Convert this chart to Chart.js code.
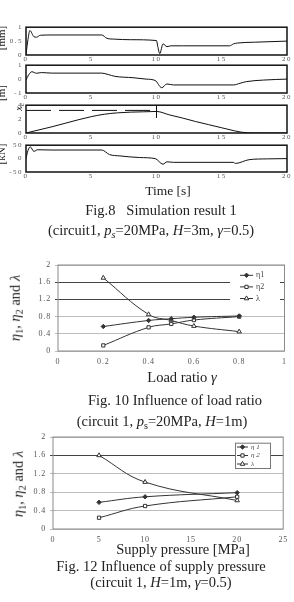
<!DOCTYPE html>
<html>
<head>
<meta charset="utf-8">
<script src="https://cdn.jsdelivr.net/npm/chart.js@4.4.1/dist/chart.umd.min.js"></script>
<style>
  html, body { margin: 0; padding: 0; background: #fff; }
  body { width: 294px; height: 602px; position: relative; overflow: hidden;
         font-family: "Liberation Serif", serif; color: #222; }
  canvas { position: absolute; left: 0; }
  .lbl { position: absolute; transform: translate(-50%, -50%); white-space: pre; line-height: 1; }
  .rot { position: absolute; transform: translate(-50%, -50%) rotate(-90deg); white-space: nowrap; line-height: 1; }
  sub { font-size: 0.7em; vertical-align: -0.3em; line-height: 0; }
</style>
</head>
<body>

<!-- Fig.8 : four stacked time traces -->
<canvas id="p1"></canvas>
<canvas id="p2"></canvas>
<canvas id="p3"></canvas>
<canvas id="p4"></canvas>
<div class="rot" style="left:1px;top:38px;font-size:11px">[mm]</div>
<div class="rot" style="left:1px;top:93px;font-size:11px">[m]</div>
<div class="rot" style="left:19px;top:107px;font-size:10px"><i>x</i><sub>c</sub></div>
<div class="rot" style="left:1px;top:154px;font-size:11px">[kN]</div>
<div class="lbl" style="left:168px;top:191px;font-size:13.5px">Time [s]</div>
<div class="lbl" style="left:161px;top:210px;font-size:14.5px">Fig.8   Simulation result 1</div>
<div class="lbl" style="left:151px;top:230px;font-size:14.5px">(circuit1, <i>p<sub>s</sub></i>=20MPa, <i>H</i>=3m, <i>γ</i>=0.5)</div>

<!-- Fig.10 -->
<canvas id="fig10"></canvas>
<div class="rot" style="left:15px;top:308px;font-size:14.5px"><i>η</i><sub>1</sub>, <i>η</i><sub>2</sub> and <i>λ</i></div>
<div class="lbl" style="left:182px;top:377px;font-size:14.5px">Load ratio <i>γ</i></div>
<div class="lbl" style="left:175px;top:400px;font-size:14.5px">Fig. 10 Influence of load ratio</div>
<div class="lbl" style="left:162px;top:421px;font-size:14.5px">(circuit 1, <i>p</i><sub>s</sub>=20MPa, <i>H</i>=1m)</div>

<!-- Fig.12 -->
<canvas id="fig12"></canvas>
<div class="rot" style="left:18px;top:484px;font-size:14.5px"><i>η</i><sub>1</sub>, <i>η</i><sub>2</sub> and <i>λ</i></div>
<div class="lbl" style="left:183px;top:549px;font-size:14.5px">Supply pressure [MPa]</div>
<div class="lbl" style="left:161px;top:566px;font-size:14.5px">Fig. 12 Influence of supply pressure</div>
<div class="lbl" style="left:161px;top:582px;font-size:14.5px">(circuit 1, <i>H</i>=1m, <i>γ</i>=0.5)</div>

<script>
// ---- Fig.8 traces (time [s] vs value) ----
const timeTicks = [0, 5, 10, 15, 20];

const t1 = [0, 0.15, 0.3, 0.6, 0.8, 1.1, 2, 5.8, 6.2, 6.8, 8, 10, 10.1, 10.25, 10.5, 10.8, 11.1, 12, 15.6, 15.9, 16.2, 17.5, 20];
const y1 = [0.02, 0.55, 0.88, 0.66, 0.64, 0.71, 0.72, 0.72, 0.6, 0.57, 0.55, 0.52, 0.3, 0.05, 0.4, 0.3, 0.33, 0.33, 0.33, 0.4, 0.43, 0.46, 0.5];

const t2 = [0, 0.2, 0.45, 0.8, 1.2, 2, 5.8, 6.3, 6.8, 8.2, 9.2, 9.9, 10.4, 10.8, 11.3, 15.9, 16.4, 16.9, 18.2, 20];
const y2 = [-0.07, 0.3, 0.53, 0.42, 0.47, 0.43, 0.43, 0.33, 0.2, 0.1, 0, -0.1, -0.62, -0.35, -0.42, -0.42, -0.3, -0.18, -0.07, 0];

const t3 = [0, 1, 2, 3, 4, 5, 6, 7, 8, 9, 10, 11, 12, 13, 14, 15, 16, 16.5, 17, 18, 20];
const y3 = [0, 0.45, 0.9, 1.4, 1.9, 2.35, 2.7, 2.9, 3.0, 3.05, 3.1, 2.6, 2.15, 1.65, 1.2, 0.75, 0.3, 0.12, 0.03, 0, 0];
const refT = [0, 10];
const refY = [3.25, 3.25];
const jumpT = [10, 10];
const jumpY = [4, 2.2];

const t4 = [0, 0.15, 0.33, 0.6, 0.9, 2, 5.8, 6.4, 7.2, 8.7, 9.9, 10.5, 10.8, 11.3, 15.9, 16.05, 17.1, 18.5, 20];
const y4 = [0, 30, 44, 27, 33, 32, 32, 15, 10, 4, 0, -21, -12, -14, -14, -18, -4, -1, 0];

// ---- Fig.10 : load ratio ----
const loadRatio = [0.2, 0.4, 0.5, 0.6, 0.8];
const eta1Load = [0.57, 0.71, 0.75, 0.785, 0.815];
const eta2Load = [0.13, 0.55, 0.63, 0.72, 0.80];
const lambdaLoad = [1.70, 0.85, 0.71, 0.58, 0.45];
const namesLoad = ["η1", "η2", "λ"];

// ---- Fig.12 : supply pressure ----
const supplyPressure = [5, 10, 20];
const eta1Supply = [0.58, 0.70, 0.79];
const eta2Supply = [0.245, 0.50, 0.70];
const lambdaSupply = [1.60, 1.02, 0.62];
const namesSupply = ["η 1", "η 2", "λ"];

const pts = (xs, ys) => xs.map((x, i) => ({ x, y: ys[i] }));
const plain = v => String(Number(v.toFixed(3)));   // 2 not 2.0

// box round the plot area
const frame = {
  id: "frame",
  beforeDatasetsDraw(chart, args, o) {
    if (!o.color) return;
    const { left, top, right, bottom } = chart.chartArea;
    const ctx = chart.ctx;
    ctx.save();
    ctx.strokeStyle = o.color;
    ctx.lineWidth = o.width;
    ctx.strokeRect(left, top, right - left, bottom - top);
    ctx.restore();
  }
};

// letter spacing for the tick labels
const spacing = {
  id: "spacing",
  beforeLayout(chart, args, o) { chart.ctx.letterSpacing = o.px || "0px"; },
  beforeDraw(chart, args, o) { chart.ctx.letterSpacing = o.px || "0px"; }
};

// legend drawn inside the plot area with a white patch
const boxLegend = {
  id: "boxLegend",
  afterDatasetsDraw(chart, args, o) {
    if (!o.w) return;
    const ctx = chart.ctx;
    ctx.save();
    ctx.letterSpacing = "0px";
    ctx.fillStyle = "#fff";
    ctx.fillRect(o.x, o.y, o.w, o.h);
    if (o.border) {
      ctx.strokeStyle = o.border;
      ctx.lineWidth = 1;
      ctx.strokeRect(o.x + 0.5, o.y + 0.5, o.w, o.h);
    }
    chart.data.datasets.forEach((ds, i) => {
      const cy = o.y + o.first + i * o.gap;
      ctx.strokeStyle = ds.borderColor;
      ctx.lineWidth = 1;
      ctx.beginPath();
      ctx.moveTo(o.lineX, cy);
      ctx.lineTo(o.lineX + o.lineW, cy);
      ctx.stroke();
      ctx.fillStyle = ds.pointBackgroundColor;
      Chart.helpers.drawPoint(ctx, { pointStyle: ds.pointStyle, radius: ds.pointRadius, borderWidth: 1 },
        o.lineX + o.lineW / 2, cy);
      ctx.fillStyle = "#444";
      ctx.font = o.font;
      ctx.textBaseline = "middle";
      ctx.fillText(ds.label, o.textX, cy);
    });
    ctx.restore();
  }
};

Chart.register(frame, spacing, boxLegend);

const tickFont8 = { family: "Liberation Serif", size: 7 };

function makePanel(id, top, plotH, yMin, yMax, yStep, datasets) {
  const c = document.getElementById(id);
  c.width = 294;
  c.height = 5 + plotH + 8;
  c.style.top = top + "px";
  return new Chart(c, {
    type: "line",
    data: { datasets },
    options: {
      responsive: false,
      animation: false,
      events: [],
      layout: { padding: { top: 5, right: 7, left: 0, bottom: 0 } },
      plugins: {
        legend: { display: false },
        tooltip: { enabled: false },
        frame: { color: "#111", width: 1.5 },
        spacing: { px: "1.5px" }
      },
      scales: {
        x: {
          type: "linear", min: timeTicks[0], max: timeTicks[timeTicks.length - 1],
          grid: { display: false, drawTicks: false }, border: { display: false },
          ticks: { stepSize: 5, padding: 0, color: "#555", font: tickFont8, maxRotation: 0, callback: plain },
          afterFit: s => { s.height = 8; }
        },
        y: {
          min: yMin, max: yMax,
          grid: { display: false, drawTicks: false }, border: { display: false },
          ticks: { stepSize: yStep, padding: 3, color: "#555", font: tickFont8, callback: plain },
          afterFit: s => { s.width = 26; }
        }
      }
    }
  });
}

const trace = (xs, ys, extra = {}) => Object.assign({
  data: pts(xs, ys), borderColor: "#111", borderWidth: 1, pointRadius: 0,
  cubicInterpolationMode: "monotone"
}, extra);

makePanel("p1", 20, 30, 0, 1, 0.5, [trace(t1, y1)]);
makePanel("p2", 58, 30, -1, 1, 1, [trace(t2, y2)]);
makePanel("p3", 98, 30, 0, 4, 2, [
  trace(t3, y3),
  trace(refT, refY, { borderDash: [25, 8], cubicInterpolationMode: "default", tension: 0 }),
  trace(jumpT, jumpY, { cubicInterpolationMode: "default", tension: 0 })
]);
makePanel("p4", 138, 29, -50, 50, 50, [trace(t4, y4)]);

// ---- result charts ----
const markers = [
  { pointStyle: "rectRot", pointRadius: 2.2, pointBackgroundColor: "#333" },
  { pointStyle: "rect", pointRadius: 2.3, pointBackgroundColor: "#fff" },
  { pointStyle: "triangle", pointRadius: 2.6, pointBackgroundColor: "#fff" }
];

function makeResult(id, top, height, plotLeft, xMax, xStep, darkFrom, xs, series, names, legend) {
  const c = document.getElementById(id);
  c.width = 294;
  c.height = height;
  c.style.top = top + "px";
  return new Chart(c, {
    type: "line",
    data: {
      datasets: series.map((ys, i) => Object.assign({
        label: names[i],
        data: pts(xs, ys),
        borderColor: "#333",
        pointBorderColor: "#333",
        borderWidth: 1,
        pointBorderWidth: 1,
        tension: 0.4
      }, markers[i]))
    },
    options: {
      responsive: false,
      animation: false,
      events: [],
      layout: { padding: { top: 10, right: 9.5, left: 0, bottom: 0 } },
      plugins: {
        legend: { display: false },
        tooltip: { enabled: false },
        frame: { color: "#8a8a8a", width: 1 },
        spacing: { px: "0.8px" },
        boxLegend: legend
      },
      scales: {
        x: {
          type: "linear", min: 0, max: xMax,
          grid: { display: false, drawTicks: false }, border: { display: false },
          ticks: { stepSize: xStep, padding: 6, color: "#555", font: { family: "Liberation Serif", size: 8 },
                   maxRotation: 0, callback: plain },
          afterFit: s => { s.height = 16; }
        },
        y: {
          min: 0, max: 2,
          grid: {
            color: ctx => ctx.tick && ctx.tick.value >= darkFrom && ctx.tick.value < 2 ? "#444" : "#bdbdbd",
            lineWidth: 1, tickLength: 3
          },
          border: { display: false },
          ticks: { stepSize: 0.4, padding: 4, color: "#555", font: { family: "Liberation Serif", size: 8 },
                   callback: plain },
          afterFit: s => { s.width = plotLeft; }
        }
      }
    }
  });
}

makeResult("fig10", 255, 112, 58, 1, 0.2, 1.2, loadRatio,
  [eta1Load, eta2Load, lambdaLoad], namesLoad,
  { x: 230, y: 15, w: 50, h: 32, first: 5.3, gap: 11.6, lineX: 240, lineW: 13, textX: 256,
    font: "8px 'Liberation Serif'" });

makeResult("fig12", 427, 118, 53, 25, 5, 1.6, supplyPressure,
  [eta1Supply, eta2Supply, lambdaSupply], namesSupply,
  { x: 235, y: 15.7, w: 35, h: 25.3, first: 4.3, gap: 8.5, lineX: 237, lineW: 11, textX: 251,
    border: "#777", font: "italic 7px 'Liberation Serif'" });
</script>
</body>
</html>
